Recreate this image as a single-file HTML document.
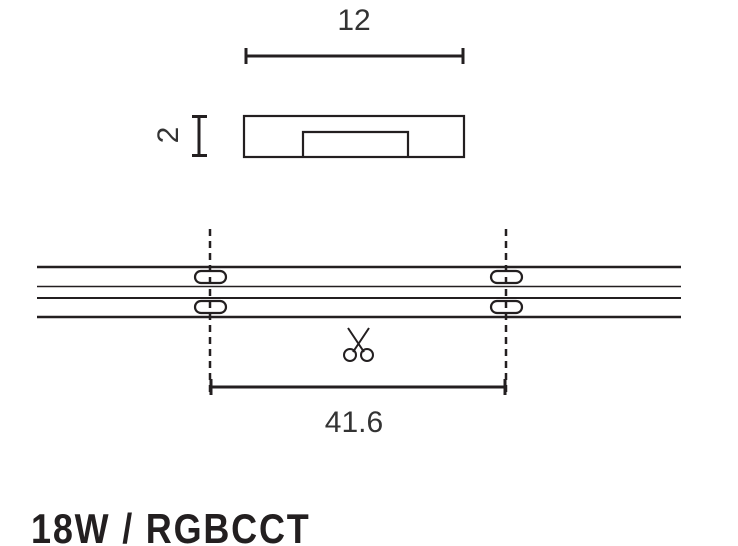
<!DOCTYPE html>
<html><head><style>body{margin:0;background:#fff;width:738px;height:546px;overflow:hidden}</style></head><body>
<svg width="738" height="546" xmlns="http://www.w3.org/2000/svg" style="display:block">
<g stroke="#231f20" fill="none">
<line x1="245" y1="56" x2="463" y2="56" stroke-width="3"/>
<line x1="246" y1="48" x2="246" y2="64" stroke-width="3"/>
<line x1="463" y1="48" x2="463" y2="64" stroke-width="3"/>
<rect x="244" y="116" width="220" height="41" stroke-width="2.2"/>
<polyline points="303,157 303,132 408,132 408,157" stroke-width="2.2"/>
<line x1="199" y1="116" x2="199" y2="156" stroke-width="3"/>
<line x1="192" y1="116.5" x2="207" y2="116.5" stroke-width="3"/>
<line x1="192" y1="155.5" x2="207" y2="155.5" stroke-width="3"/>
<line x1="37" y1="267" x2="681" y2="267" stroke-width="2.5"/>
<line x1="37" y1="286.5" x2="681" y2="286.5" stroke-width="1.6"/>
<line x1="37" y1="298" x2="681" y2="298" stroke-width="2"/>
<line x1="37" y1="317" x2="681" y2="317" stroke-width="2.5"/>
<line x1="210" y1="229" x2="210" y2="392" stroke-width="2.5" stroke-dasharray="7,5"/>
<line x1="506" y1="229" x2="506" y2="392" stroke-width="2.5" stroke-dasharray="7,5"/>
<rect x="195" y="271" width="31" height="12" rx="6" stroke-width="2.2"/>
<rect x="195" y="301" width="31" height="12" rx="6" stroke-width="2.2"/>
<rect x="491" y="271" width="31" height="12" rx="6" stroke-width="2.2"/>
<rect x="491" y="301" width="31" height="12" rx="6" stroke-width="2.2"/>
<line x1="211" y1="387" x2="505" y2="387" stroke-width="3"/>
<line x1="211" y1="379" x2="211" y2="395" stroke-width="3"/>
<line x1="505" y1="379" x2="505" y2="395" stroke-width="3"/>
<g stroke-width="2">
<line x1="348" y1="328" x2="364" y2="352"/>
<line x1="369" y1="328" x2="353" y2="352"/>
<circle cx="350" cy="355" r="6"/>
<circle cx="367" cy="355" r="6"/>
</g>
</g>
<g font-family="Liberation Sans, sans-serif" fill="#231f20">
<text x="354" y="30" font-size="30" text-anchor="middle" fill="#333">12</text>
<text x="354" y="432" font-size="30" text-anchor="middle" fill="#333">41.6</text>
<text transform="translate(178,135) rotate(-90)" font-size="30" text-anchor="middle" fill="#333">2</text>
<g transform="translate(31,543) scale(1,1.15)">
<text x="0" y="0" font-size="36" font-weight="bold" letter-spacing="1.8">18W / RGBCCT</text>
</g>
</g>
</svg>
</body></html>
